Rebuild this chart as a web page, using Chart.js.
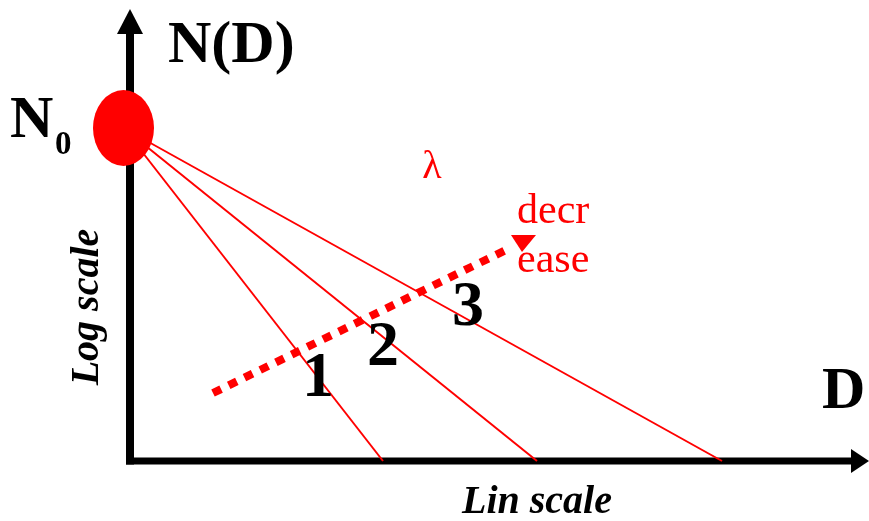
<!DOCTYPE html>
<html>
<head>
<meta charset="utf-8">
<title>N(D) exponential size distribution</title>
<script src="https://cdn.jsdelivr.net/npm/chart.js@4"></script>
<style>
  html, body { margin: 0; padding: 0; background: #ffffff; }
  #wrap { width: 869px; height: 521px; position: relative; }
</style>
</head>
<body>
<div id="wrap"><canvas id="c"></canvas></div>
<script>
// Intercept N0 (in D units, log N units) shared by all three distributions
const n0Point = { x: -0.065, y: 3.33 };
// Diameter where each distribution line reaches the D axis (slope = lambda)
const lineIds = ['1', '2', '3'];
const dIntercepts = [2.53, 4.07, 5.92];
// Dotted "lambda decrease" trend, start and end
const trendX = [0.83, 3.78];
const trendY = [0.68, 2.12];
// Axis extents
const axisXEnd = 7.21;
const axisYEnd = 4.27;
// Text
const axisTitleY = 'N(D)';
const axisTitleX = 'D';
const lambdaText = 'λ';
const decreaseText = ['decr', 'ease'];
const logScaleText = 'Log scale';
const linScaleText = 'Lin scale';

const RED = '#ff0000';
const serif = '"Liberation Serif", "Times New Roman", serif';

const datasets = [];
// three straight distributions from N0 down to their D intercept
dIntercepts.forEach((d, i) => {
  datasets.push({
    label: 'line ' + lineIds[i],
    data: [n0Point, { x: d, y: 0 }],
    showLine: true, borderColor: RED, borderWidth: 2,
    pointRadius: 0, order: 2
  });
});
// dotted trend line
datasets.push({
  label: 'trend',
  data: [{ x: trendX[0], y: trendY[0] }, { x: trendX[1], y: trendY[1] }],
  showLine: true, borderColor: RED, borderWidth: 8, borderDash: [9, 8.5],
  borderCapStyle: 'butt', pointRadius: 0, order: 1
});
// axes
datasets.push({
  label: 'y axis',
  data: [{ x: 0, y: -0.035 }, { x: 0, y: axisYEnd }],
  showLine: true, borderColor: '#000', borderWidth: 8, pointRadius: 0, order: 3
});
datasets.push({
  label: 'x axis',
  data: [{ x: -0.04, y: 0 }, { x: axisXEnd, y: 0 }],
  showLine: true, borderColor: '#000', borderWidth: 7, pointRadius: 0, order: 3
});

const decor = {
  id: 'decor',
  afterDatasetsDraw(chart) {
    const ctx = chart.ctx;
    const xs = chart.scales.x, ys = chart.scales.y;
    const px = v => xs.getPixelForValue(v);
    const py = v => ys.getPixelForValue(v);
    ctx.save();

    // arrow heads on the axes
    ctx.fillStyle = '#000';
    const yTop = py(axisYEnd), x0 = px(0);
    ctx.beginPath();
    ctx.moveTo(x0 - 13, yTop);
    ctx.lineTo(x0 + 13, yTop);
    ctx.lineTo(x0, yTop - 25);
    ctx.closePath(); ctx.fill();
    const xEnd = px(axisXEnd), y0 = py(0);
    ctx.beginPath();
    ctx.moveTo(xEnd, y0 - 12);
    ctx.lineTo(xEnd, y0 + 12);
    ctx.lineTo(xEnd + 18, y0);
    ctx.closePath(); ctx.fill();

    // arrow head of the dotted trend
    ctx.fillStyle = RED;
    const tx = px(trendX[1]), ty = py(trendY[1]);
    ctx.beginPath();
    ctx.moveTo(tx + 3, ty - 14);
    ctx.lineTo(tx + 28, ty - 14);
    ctx.lineTo(tx + 14, ty + 3);
    ctx.closePath(); ctx.fill();

    // N0 marker
    ctx.beginPath();
    ctx.ellipse(px(n0Point.x), py(n0Point.y), 30.5, 38, 0, 0, Math.PI * 2);
    ctx.fill();

    // black labels
    ctx.fillStyle = '#000';
    ctx.textBaseline = 'alphabetic';
    ctx.textAlign = 'left';
    ctx.font = 'bold 60px ' + serif;
    ctx.fillText(axisTitleY, px(0.38), py(3.99));
    ctx.fillText('N', px(-1.2), py(3.24));
    ctx.fillText(axisTitleX, px(6.92), py(0.53));
    ctx.font = 'bold 33px ' + serif;
    ctx.fillText('0', px(-0.75), py(3.07));

    ctx.textAlign = 'center';
    ctx.font = 'bold 64px ' + serif;
    const idPos = [[1.88, 0.65], [2.53, 0.96], [3.38, 1.36]];
    lineIds.forEach((t, i) => ctx.fillText(t, px(idPos[i][0]), py(idPos[i][1])));

    ctx.font = 'italic bold 40px ' + serif;
    ctx.fillText(linScaleText, px(4.07), py(-0.52));
    ctx.save();
    ctx.translate(px(-0.32), py(1.54));
    ctx.rotate(-Math.PI / 2);
    ctx.fillText(logScaleText, 0, 0);
    ctx.restore();

    // red labels
    ctx.fillStyle = RED;
    ctx.font = '40px ' + serif;
    ctx.fillText(lambdaText, px(3.02), py(2.83));
    ctx.textAlign = 'left';
    ctx.font = '42px ' + serif;
    ctx.fillText(decreaseText[0], px(3.87), py(2.38));
    ctx.fillText(decreaseText[1], px(3.87), py(1.89));

    ctx.restore();
  }
};

new Chart(document.getElementById('c'), {
  type: 'scatter',
  data: { datasets },
  options: {
    responsive: true,
    maintainAspectRatio: false,
    animation: false,
    layout: { padding: 0 },
    plugins: { legend: { display: false }, tooltip: { enabled: false } },
    scales: {
      x: { type: 'linear', display: false, min: -1.3, max: 7.39 },
      y: { type: 'linear', display: false, min: -0.6, max: 4.61 }
    },
    elements: { line: { tension: 0 } }
  },
  plugins: [decor]
});
</script>
</body>
</html>
